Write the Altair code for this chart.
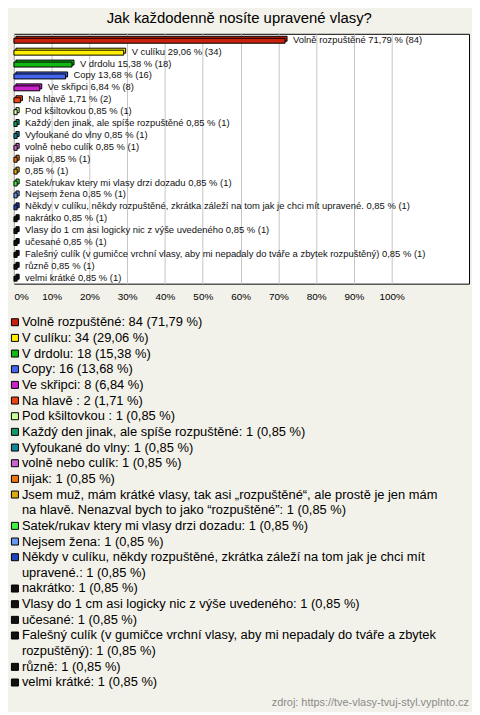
import textwrap
import altair as alt
import pandas as pd

title_text = "Jak každodenně nosíte upravené vlasy?"
source_text = "zdroj: https://tve-vlasy-tvuj-styl.vyplnto.cz"

answers = [
    "Volně rozpuštěné",
    "V culíku",
    "V drdolu",
    "Copy",
    "Ve skřipci",
    "Na hlavě ",
    "Pod kšiltovkou ",
    "Každý den jinak, ale spíše rozpuštěné",
    "Vyfoukané do vlny",
    "volně nebo culík",
    "nijak",
    "Jsem muž, mám krátké vlasy, tak asi „rozpuštěné“, ale prostě je jen mám na hlavě. Nenazval bych to jako “rozpuštěné”",
    "Satek/rukav ktery mi vlasy drzi dozadu",
    "Nejsem žena",
    "Někdy v culíku, někdy rozpuštěné, zkrátka záleží na tom jak je chci mít upravené.",
    "nakrátko",
    "Vlasy do 1 cm asi logicky nic z výše uvedeného",
    "učesané",
    "Falešný culík (v gumičce vrchní vlasy, aby mi nepadaly do tváře a zbytek rozpuštěný)",
    "různě",
    "velmi krátké",
]

# label shown next to the bar (one answer is shown without its text)
bar_names = list(answers)
bar_names[11] = ""

counts = [84, 34, 18, 16, 8, 2, 1, 1, 1, 1, 1, 1, 1, 1, 1, 1, 1, 1, 1, 1, 1]
percents = [71.79, 29.06, 15.38, 13.68, 6.84, 1.71, 0.85, 0.85, 0.85, 0.85, 0.85,
            0.85, 0.85, 0.85, 0.85, 0.85, 0.85, 0.85, 0.85, 0.85, 0.85]

colors = [
    "#c8210f", "#ffee00", "#11bb11", "#4466ee", "#cc22cc", "#ee4411", "#ccff99",
    "#119966", "#118899", "#cc66cc", "#ee7711", "#ddaa11", "#44ee44", "#6699ee",
    "#2244bb", "#111111", "#111111", "#111111", "#111111", "#111111", "#111111",
]

tick_values = [0, 10, 20, 30, 40, 50, 60, 70, 80, 90, 100]


def cz(p):
    return f"{p:.2f}".replace(".", ",")


bars_df = pd.DataFrame({
    "key": [f"a{i:02d}" for i in range(len(answers))],
    "pct": percents,
    "label": [f"{n} {cz(p)} % ({c})".strip() for n, p, c in zip(bar_names, percents, counts)],
    "color": colors,
})

base = alt.Chart(bars_df).encode(
    x=alt.X(
        "pct:Q",
        scale=alt.Scale(domain=[0, 120.5], nice=False, zero=True),
        axis=alt.Axis(
            values=tick_values,
            labelExpr="datum.value + '%'",
            grid=True,
            gridColor="#c4c4c4",
            gridWidth=1,
            domain=False,
            ticks=False,
            labelFont="Liberation Sans",
            labelFontSize=10,
            labelColor="#000000",
            labelPadding=8,
            labelAlign=alt.condition("datum.value == 0", alt.value("left"), alt.value("center")),
            title=None,
        ),
    ),
    y=alt.Y("key:N", sort=None, axis=None,
            scale=alt.Scale(paddingInner=0, paddingOuter=0)),
)

back = base.mark_bar(height=5, stroke="#000000", strokeWidth=1, xOffset=2, yOffset=-1).encode(
    color=alt.Color("color:N", scale=None)
)
front = base.mark_bar(height=5, stroke="#000000", strokeWidth=1, yOffset=1).encode(
    color=alt.Color("color:N", scale=None)
)
labels = base.mark_text(align="left", baseline="middle", dx=8, font="Liberation Sans",
                        fontSize=9.5, color="#111111").encode(text="label:N")

bars_chart = alt.layer(back, front, labels).properties(
    width=459, height=252,
    view=alt.ViewBackground(fill="#ffffff", stroke="#000000", strokeWidth=1),
)

# legend rows (wrapped text)
rows = []
line = 0
for i, (a, p, c, col) in enumerate(zip(answers, percents, counts, colors)):
    full = f"{a}: {c} ({cz(p)} %)"
    parts = textwrap.wrap(full, 72)
    for j, t in enumerate(parts):
        rows.append({"line": line, "text": t, "color": col, "first": j == 0})
        line += 1
n_lines = line
leg_df = pd.DataFrame(rows)

leg_base = alt.Chart(leg_df).encode(
    y=alt.Y("line:Q", scale=alt.Scale(domain=[-0.5, n_lines - 0.5], reverse=True, nice=False, zero=False),
            axis=None)
)
squares = leg_base.transform_filter("datum.first").mark_square(
    size=50, stroke="#000000", strokeWidth=1, opacity=1
).encode(x=alt.value(1), color=alt.Color("color:N", scale=None))
leg_text = leg_base.mark_text(align="left", baseline="middle", font="Liberation Sans",
                              fontSize=13, color="#000000").encode(x=alt.value(8), text="text:N")

legend_chart = alt.layer(squares, leg_text).properties(
    width=459, height=n_lines * 15.8,
    title=alt.TitleParams(source_text, orient="bottom", anchor="end", fontSize=11,
                          font="Liberation Sans", fontWeight="normal", color="#8a8a8a", offset=7),
)

chart = alt.vconcat(bars_chart, legend_chart, spacing=31, bounds="flush").properties(
    title=alt.TitleParams(title_text, fontSize=15, font="Liberation Sans", fontWeight="normal",
                          color="#000000", anchor="middle", offset=7),
    background="#f3f2ea",
    padding={"left": 0, "top": 0, "right": 2, "bottom": 0},
).configure_view(stroke="transparent")

chart.save("out.html", embed_options={"renderer": "svg", "actions": False})
